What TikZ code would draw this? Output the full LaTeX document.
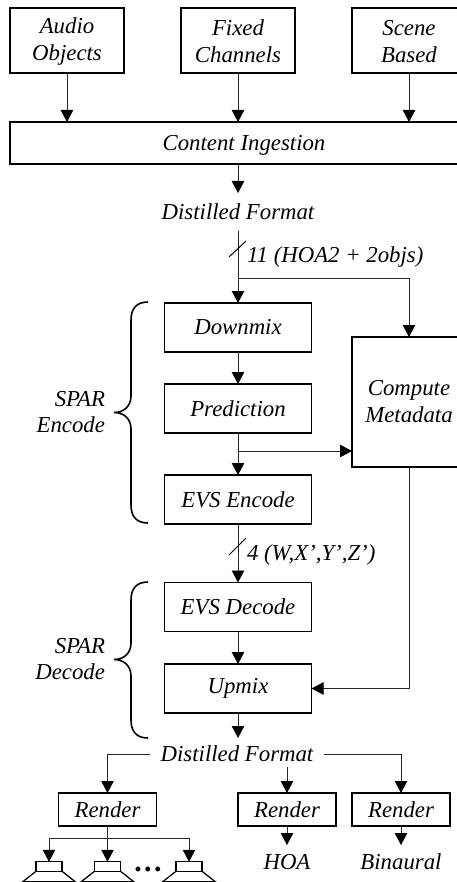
\documentclass[tikz,border=0pt]{standalone}
\usepackage{fontspec}
\setmainfont{Liberation Serif}
\usetikzlibrary{arrows.meta}
\tikzset{
  every node/.style={font=\fontsize{22.8}{27}\selectfont\itshape,align=center,inner sep=0pt,outer sep=0pt},
  block/.style={draw,line width=1.25pt},
  wire/.style={line width=0.95pt,black!85},
  arrow/.style={wire,-{Triangle[length=12pt,width=12.5pt,black]}},
  curly/.style={line width=1.6pt},
}
\def\lift{\rule{0pt}{18pt}}
\begin{document}
\begin{tikzpicture}[x=1pt,y=-1pt]
  \clip (0,0) rectangle (457,882);

  \node[block,minimum width=114,minimum height=65] (audio) at (67,40.5) {\lift Audio\\Objects};
  \node[block,minimum width=114,minimum height=65] (fixed) at (238,40.5) {\lift Fixed\\Channels};
  \node[block,minimum width=114,minimum height=65] (scene) at (409,40.5) {\lift Scene\\Based};
  \node[block,minimum width=468,minimum height=42,text depth=0pt] (ingest) at (244,143) {Content Ingestion};

  \draw[arrow] (audio) -- (audio |- ingest.north);
  \draw[arrow] (fixed) -- (fixed |- ingest.north);
  \draw[arrow] (scene) -- (scene |- ingest.north);

  \node[minimum height=38] (distA) at (238,212) {Distilled Format};
  \draw[arrow] (ingest.south -| distA) -- (distA.north);

  \node[block,minimum width=147,minimum height=49] (downmix) at (238,327.5) {Downmix};
  \node[block,minimum width=147,minimum height=49] (predict) at (238,408.5) {Prediction};
  \node[block,minimum width=147,minimum height=49] (evsenc) at (238,499.5) {EVS Encode};
  \node[block,minimum width=147,minimum height=49] (evsdec) at (238,607) {EVS Decode};
  \node[block,minimum width=147,minimum height=49] (upmix) at (238,688.5) {Upmix};
  \node[block,minimum width=114,minimum height=130] (meta) at (409,402) {Compute\\Metadata};

  \coordinate (tapA) at (238,278);
  \coordinate (tapB) at (238,451);
  \draw[arrow] (distA.south) -- (downmix.north);
  \draw[arrow] (tapA) -| (meta.north);
  \draw[arrow] (downmix) -- (predict);
  \draw[arrow] (predict) -- (evsenc);
  \draw[arrow] (tapB) -- (tapB -| meta.west);
  \draw[arrow] (evsenc) -- (evsdec);
  \draw[arrow] (evsdec) -- (upmix);
  \draw[arrow] (meta.south) |- (upmix.east);

  \coordinate (slashA) at (229,257);
  \coordinate (slashB) at (229,555);
  \draw[wire,black] (slashA) -- ++(17,-16);
  \draw[wire,black] (slashB) -- ++(17,-17);
  \node[anchor=west] (countA) at (247,257) {11 (HOA2 + 2objs)};
  \node[anchor=west] (countB) at (247,555) {4 (W,X',Y',Z')};

  % braces, top end to bottom end
  \coordinate (encTop) at (148,302);
  \coordinate (encTip) at (114,412.5);
  \coordinate (encBot) at (148,523);
  \coordinate (decTop) at (148,582);
  \coordinate (decTip) at (114,659.5);
  \coordinate (decBot) at (148,738);
  \draw[curly] (encTop) .. controls (137,302) and (131,308) .. (131,320) -- (131,396)
    .. controls (131,406) and (124,412.5) .. (encTip) .. controls (124,412.5) and (131,419) .. (131,429)
    -- (131,505) .. controls (131,517) and (137,523) .. (encBot);
  \draw[curly] (decTop) .. controls (137,582) and (131,588) .. (131,600) -- (131,643)
    .. controls (131,653) and (124,659.5) .. (decTip) .. controls (124,659.5) and (131,666) .. (131,676)
    -- (131,720) .. controls (131,732) and (137,738) .. (decBot);
  \node[anchor=east,align=right] (sparenc) at (105,412.5) {SPAR\\[-1pt]Encode};
  \node[anchor=east,align=right] (spardec) at (105,659.5) {SPAR\\[-1pt]Decode};

  \node[minimum width=174,minimum height=26] (distB) at (237,754) {Distilled Format};
  \draw[arrow,shorten >=3pt] (upmix) -- (distB.north -| upmix);

  \node[block,minimum width=98,minimum height=33] (renderL) at (107.5,809.5) {Render};
  \node[block,minimum width=98,minimum height=33] (renderM) at (287,809.5) {Render};
  \node[block,minimum width=98,minimum height=33] (renderR) at (401,809.5) {Render};
  \draw[arrow] (distB.west) -| (renderL.north);
  \draw[arrow] (distB.south -| renderM) -- (renderM.north);
  \draw[arrow] (distB.east) -| (renderR.north);

  \node[minimum height=34] (hoa) at (287,862) {HOA};
  \node[minimum height=34] (binaural) at (401,862) {Binaural};
  \draw[arrow] (renderM.south) -- (hoa.north);
  \draw[arrow] (renderR.south) -- (binaural.north);

  % speakers under the left render
  \foreach \name/\xpos in {spkA/49,spkB/107.5,spkC/189}{
    \node[block,minimum width=26,minimum height=9.5] (\name) at (\xpos,866.5) {};
    \draw[line width=1.25pt] (\name.south west) -- ++(-13.3,10.5) -- ++(52.6,0) -- (\name.south east);
  }
  \coordinate (fan) at (107.5,838);
  \draw[arrow] (renderL.south) -- (spkB.north);
  \draw[arrow] (fan) -| (spkA.north);
  \draw[arrow] (fan) -| (spkC.north);
  \node[font=\fontsize{30}{30}\selectfont\bfseries] (more) at (148,869) {.\kern2.5pt.\kern2.5pt.};
\end{tikzpicture}
\end{document}
